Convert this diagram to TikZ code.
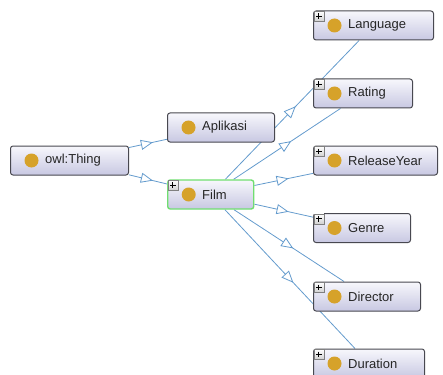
\documentclass[tikz,border=0pt]{standalone}
\usepackage{fontspec}
\setmainfont{Liberation Sans}
\usepackage{tikz}
\usetikzlibrary{arrows.meta}
\usetikzlibrary{decorations.markings}
\usetikzlibrary{calc}
\usetikzlibrary{backgrounds}

\definecolor{edgeblue}{RGB}{100,155,205}
\definecolor{boxline}{RGB}{72,72,80}
\definecolor{boxtop}{RGB}{247,247,252}
\definecolor{boxbot}{RGB}{200,200,226}
\definecolor{gold}{RGB}{214,162,42}
\definecolor{selgreen}{RGB}{112,222,112}

\begin{document}
\begin{tikzpicture}[x=1pt,y=-1pt,
    cls/.style={draw=boxline, line width=1pt, rounded corners=2.5pt,
      top color=boxtop, bottom color=boxbot, minimum height=29pt,
      inner sep=0pt, anchor=west,
      path picture={\fill[gold] ([xshift=21pt]path picture bounding box.west) circle (7pt);}},
    lbl/.style={anchor=west, inner sep=0pt, font=\fontsize{13}{15}\selectfont, text=black!85},
    expander/.style={draw=black!50, line width=.6pt, top color=white, bottom color=black!18,
      minimum size=10pt, inner sep=0pt, anchor=north west, xshift=.5pt, yshift=-.5pt,
      path picture={\draw[black, line width=.9pt]
        ([xshift=2.2pt]path picture bounding box.west) -- ([xshift=-2.2pt]path picture bounding box.east)
        ([yshift=-2.2pt]path picture bounding box.north) -- ([yshift=2.2pt]path picture bounding box.south);}},
    isa/.style={draw=edgeblue, line width=.8pt, postaction={decorate},
      decoration={markings, mark=at position .5 with {\arrow[xshift=5pt]{Triangle[length=12pt,width=10pt,fill=white]}}}}]
    \useasboundingbox (0,0) rectangle (443,374);
    % classes
    \node[cls, minimum width=118pt] (thing) at (10,160.5) {};
    \node[lbl] at ($(thing.west)+(35,0)$) {owl:Thing};
    \node[cls, minimum width=107pt] (apl) at (167,127.5) {};
    \node[lbl] at ($(apl.west)+(35,0)$) {Aplikasi};
    \node[cls, draw=selgreen, line width=1.4pt, minimum width=86pt] (film) at (167,194.5) {};
    \node[lbl] at ($(film.west)+(35,0)$) {Film};
    \node[expander] at (film.north west) {};
    % subclasses of Film
    \node[cls, minimum width=120pt] (lang) at (313,25.5) {};
    \node[lbl] at ($(lang.west)+(35,0)$) {Language};
    \node[expander] at (lang.north west) {};
    \node[cls, minimum width=99pt] (rate) at (313,93.5) {};
    \node[lbl] at ($(rate.west)+(35,0)$) {Rating};
    \node[expander] at (rate.north west) {};
    \node[cls, minimum width=124pt] (year) at (313,160.5) {};
    \node[lbl] at ($(year.west)+(35,0)$) {ReleaseYear};
    \node[expander] at (year.north west) {};
    \node[cls, minimum width=97pt] (genre) at (313,228) {};
    \node[lbl] at ($(genre.west)+(35,0)$) {Genre};
    \node[expander] at (genre.north west) {};
    \node[cls, minimum width=107pt] (dir) at (313,296.5) {};
    \node[lbl] at ($(dir.west)+(35,0)$) {Director};
    \node[expander] at (dir.north west) {};
    \node[cls, minimum width=111pt] (dur) at (313,363.5) {};
    \node[lbl] at ($(dur.west)+(35,0)$) {Duration};
    \node[expander] at (dur.north west) {};
    % is-a links
    \begin{pgfonlayer}{background}
    \draw[isa] (thing) -- (apl);
    \draw[isa] (thing) -- (film);
    \draw[isa] (film) -- (lang);
    \draw[isa] (film) -- (rate);
    \draw[isa] (film) -- (year);
    \draw[isa] (film) -- (genre);
    \draw[isa] (film) -- (dir);
    \draw[isa] (film) -- (dur);
    \end{pgfonlayer}
\end{tikzpicture}
\end{document}
